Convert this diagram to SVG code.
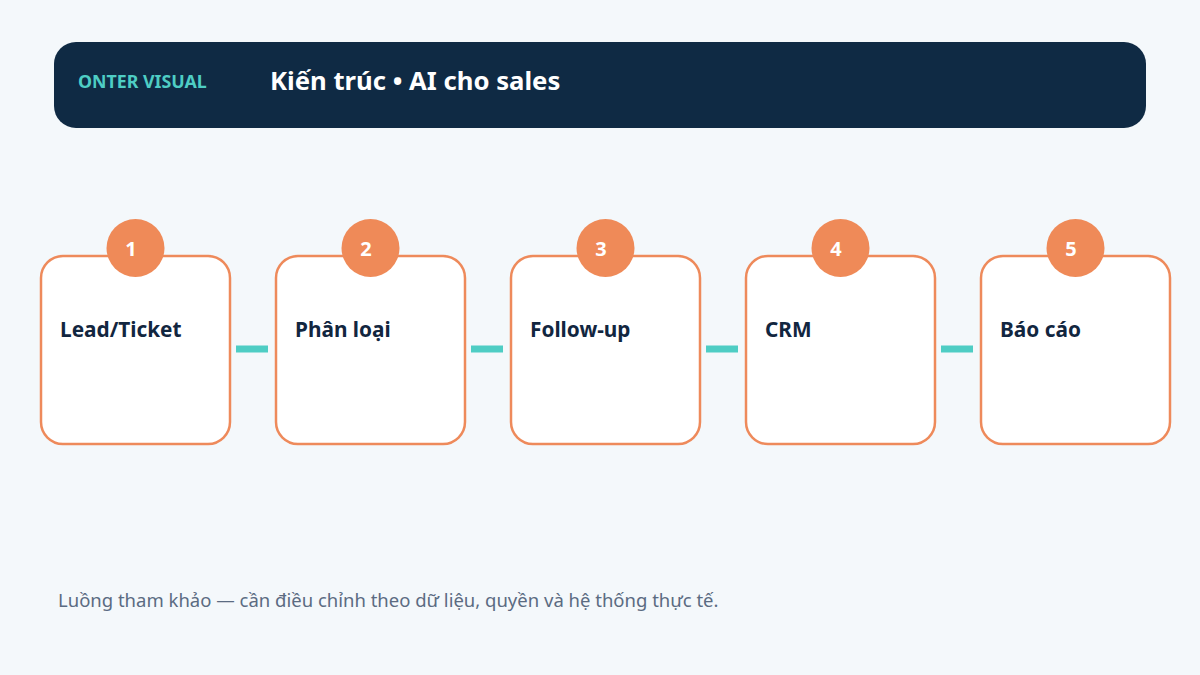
<svg xmlns="http://www.w3.org/2000/svg" width="1200" height="675" viewBox="0 0 1200 675">
<style>
.box{fill:#ffffff;stroke:#ee8a5b;stroke-width:2.5}
.badge{fill:#ef8a58}
.num{font-family:"Noto Sans","Open Sans",sans-serif;font-weight:700;font-size:20px;fill:#ffffff;text-anchor:middle}
.lbl{font-family:"Noto Sans","Open Sans",sans-serif;font-weight:700;font-size:20.8px;fill:#12263f}
.conn{stroke:#4ecdc4;stroke-width:7}
</style>
<rect width="1200" height="675" fill="#f4f8fb"/>
<g id="header">
<rect x="54" y="42" width="1092" height="86" rx="22" fill="#0f2a44"/>
<text x="78" y="88" font-family="Noto Sans, Open Sans, sans-serif" font-weight="700" font-size="17.8" fill="#4ecdc4">ONTER VISUAL</text>
<text x="270" y="90" font-family="Noto Sans, Open Sans, sans-serif" font-weight="700" font-size="25.7" fill="#ffffff">Kiến trúc • AI cho sales</text>
</g>
<g id="connectors">
<line class="conn" x1="236" y1="349" x2="268" y2="349"/>
<line class="conn" x1="471" y1="349" x2="503" y2="349"/>
<line class="conn" x1="706" y1="349" x2="738" y2="349"/>
<line class="conn" x1="941" y1="349" x2="973" y2="349"/>
</g>
<g id="node1">
<rect class="box" x="41" y="256" width="189" height="188" rx="22"/>
<circle class="badge" cx="135.5" cy="248" r="29"/>
<text class="num" x="131" y="255.5">1</text>
<text class="lbl" x="60" y="337">Lead/Ticket</text>
</g>
<g id="node2">
<rect class="box" x="276" y="256" width="189" height="188" rx="22"/>
<circle class="badge" cx="370.5" cy="248" r="29"/>
<text class="num" x="366" y="255.5">2</text>
<text class="lbl" x="295" y="337">Phân loại</text>
</g>
<g id="node3">
<rect class="box" x="511" y="256" width="189" height="188" rx="22"/>
<circle class="badge" cx="605.5" cy="248" r="29"/>
<text class="num" x="601" y="255.5">3</text>
<text class="lbl" x="530" y="337">Follow-up</text>
</g>
<g id="node4">
<rect class="box" x="746" y="256" width="189" height="188" rx="22"/>
<circle class="badge" cx="840.5" cy="248" r="29"/>
<text class="num" x="836" y="255.5">4</text>
<text class="lbl" x="765" y="337">CRM</text>
</g>
<g id="node5">
<rect class="box" x="981" y="256" width="189" height="188" rx="22"/>
<circle class="badge" cx="1075.5" cy="248" r="29"/>
<text class="num" x="1071" y="255.5">5</text>
<text class="lbl" x="1000" y="337">Báo cáo</text>
</g>
<text x="58" y="607" font-family="Noto Sans, Open Sans, sans-serif" font-size="18.5" fill="#5b6b82">Luồng tham khảo — cần điều chỉnh theo dữ liệu, quyền và hệ thống thực tế.</text>
</svg>
